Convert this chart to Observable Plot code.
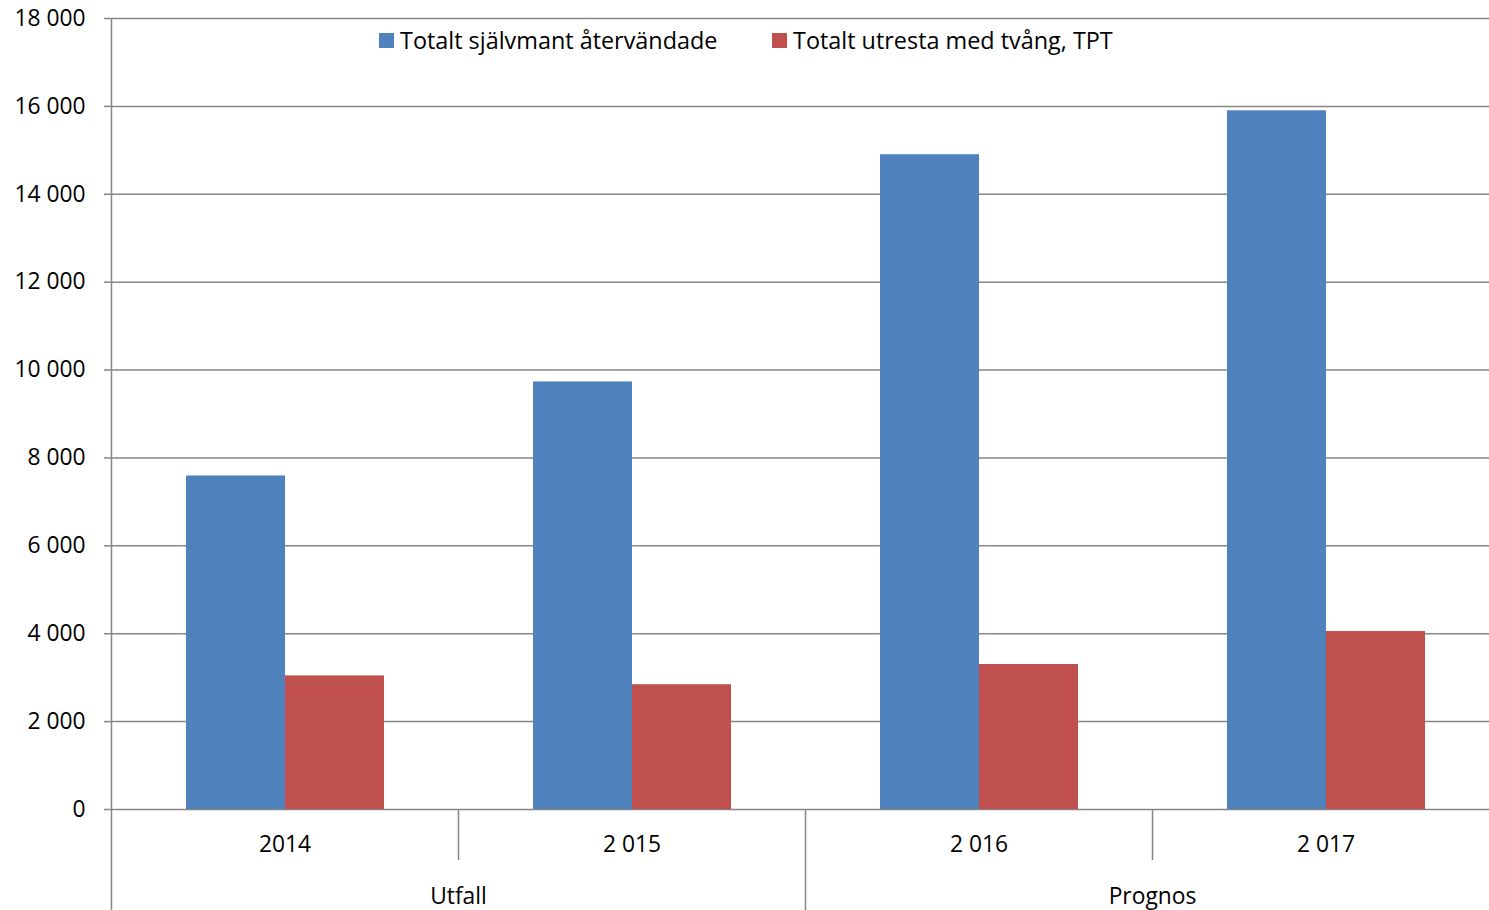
<!DOCTYPE html>
<html>
<head>
<meta charset="utf-8">
<script src="https://cdn.jsdelivr.net/npm/d3@7"></script>
<script src="https://cdn.jsdelivr.net/npm/@observablehq/plot@0.6"></script>
<style>
  html, body { margin: 0; padding: 0; background: #fff; overflow: hidden; }
  #wrap { position: relative; width: 1489px; height: 910px; overflow: hidden; font-family: "Open Sans", sans-serif; }
  #wrap svg { max-width: none !important; }
  .leg { position: absolute; top: 24px; display: flex; align-items: center; font-size: 23.4px; color: #000; white-space: nowrap; }
  .sw { width: 15px; height: 15px; margin-right: 6px; display: inline-block; }
</style>
</head>
<body>
<div id="wrap"></div>
<script>
const years = ["2014", "2015", "2016", "2017"];
const yearLabels = ["2014", "2 015", "2 016", "2 017"];
const seriesNames = ["Totalt självmant återvändade", "Totalt utresta med tvång, TPT"];
const seriesColors = ["#4f81bd", "#c0504d"];
const selfReturned = [7590, 9730, 14900, 15900];
const forcedReturned = [3040, 2840, 3300, 4050];
const yTicks = [0, 2000, 4000, 6000, 8000, 10000, 12000, 14000, 16000, 18000];
const groups = [
  { label: "Utfall", start: "2014", center: "2014" },
  { label: "Prognos", start: "2016", center: "2016" }
];

const data = [];
years.forEach((y, i) => {
  data.push({ year: y, series: seriesNames[0], value: selfReturned[i] });
  data.push({ year: y, series: seriesNames[1], value: forcedReturned[i] });
});

const fmt = d3.formatLocale({ decimal: ",", thousands: " ", grouping: [3] }).format(",d");
const gray = "#868686";

const plot = Plot.plot({
  width: 1499,
  height: 910,
  marginLeft: 111,
  marginRight: 0,
  marginTop: 18,
  marginBottom: 101,
  style: { fontFamily: "Open Sans", fontSize: "22.8px", color: "#000", background: "transparent", maxWidth: "none" },
  fx: { domain: years, padding: 0, axis: null },
  x: { domain: seriesNames, paddingInner: 0, paddingOuter: 0.7525, axis: null },
  y: { domain: [0, 18000] },
  color: { domain: seriesNames, range: seriesColors },
  marks: [
    Plot.gridY(yTicks, { stroke: gray, strokeOpacity: 1, strokeWidth: 1.5 }),
    Plot.barY(data, { fx: "year", x: "series", y: "value", fill: "series" }),
    Plot.axisY(yTicks, { tickSize: 7, tickPadding: 19, tickFormat: fmt, stroke: gray, strokeWidth: 1.5, label: null }),
    Plot.text(years, { fx: d => d, text: (d, i) => yearLabels[i], frameAnchor: "bottom", dy: 42 }),
    Plot.text(groups, { fx: d => d.center, text: d => d.label, frameAnchor: "bottom-right", textAnchor: "middle", dy: 94 })
  ]
});
plot.style.maxWidth = "none";
plot.setAttribute("width", 1499);

// category axis lines drawn from the plot's own scales
const fx = plot.scale("fx");
const ys = plot.scale("y");
const yBase = ys.apply(0);
const yTop = ys.apply(18000);
const svg = d3.select(plot);
const g = svg.append("g").attr("stroke", gray).attr("stroke-width", 1.5);
g.append("line")
  .attr("x1", fx.apply(years[0]) + 0.5).attr("x2", fx.apply(years[0]) + 0.5)
  .attr("y1", yTop).attr("y2", 910);
const groupStarts = groups.map(d => d.start);
years.forEach(y => {
  if (y === years[0]) return;
  const x = fx.apply(y) + 0.5;
  const long = groupStarts.includes(y);
  g.append("line").attr("x1", x).attr("x2", x)
    .attr("y1", yBase).attr("y2", long ? 910 : yBase + 51);
});

const wrap = document.getElementById("wrap");
wrap.appendChild(plot);

// legend overlaid inside the plot area
const legendLeft = [379, 772];
seriesNames.forEach((name, i) => {
  const item = document.createElement("div");
  item.className = "leg";
  item.style.left = legendLeft[i] + "px";
  const sw = document.createElement("span");
  sw.className = "sw";
  sw.style.background = seriesColors[i];
  const tx = document.createElement("span");
  tx.textContent = name;
  item.appendChild(sw);
  item.appendChild(tx);
  wrap.appendChild(item);
});
</script>
</body>
</html>
